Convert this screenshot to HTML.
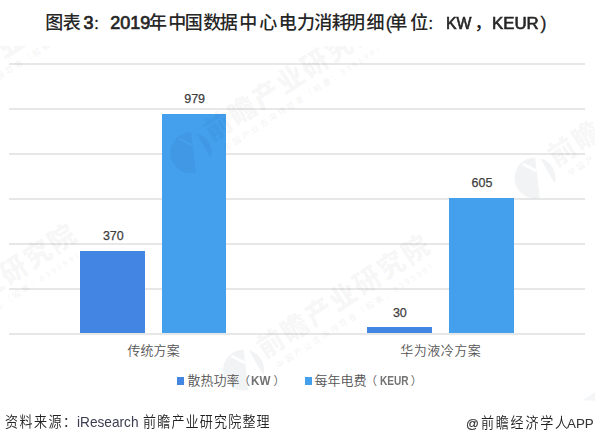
<!DOCTYPE html>
<html><head><meta charset="utf-8">
<style>
*{margin:0;padding:0;box-sizing:border-box}
html,body{width:605px;height:435px;overflow:hidden;background:#fff}
body{position:relative;font-family:"Liberation Sans","Noto Sans CJK SC",sans-serif}
.a{position:absolute;white-space:nowrap;line-height:30px}
.g{position:absolute;left:9px;width:576px;height:2px;background:#e7e7e7}
.bar{position:absolute}
.s1{background:#4285e3}
.s2{background:#449fed}
.sq{position:absolute;width:7px;height:7px}
</style></head>
<body>
<div class="g" style="top:63px"></div>
<div class="g" style="top:108px"></div>
<div class="g" style="top:153px"></div>
<div class="g" style="top:198px"></div>
<div class="g" style="top:243px"></div>
<div class="g" style="top:288px"></div>
<div class="g" style="top:333px"></div>

<div class="bar s1" style="left:80px;width:65px;top:251px;height:82px"></div>
<div class="bar s2" style="left:162px;width:64px;top:114px;height:219px"></div>
<div class="bar s1" style="left:367px;width:65px;top:327px;height:6px"></div>
<div class="bar s2" style="left:449px;width:65px;top:198px;height:135px"></div>

<div class="sq s1" style="left:177px;top:377px;width:7.4px;height:8px"></div>
<div class="sq s2" style="left:305px;top:377px;width:6.5px;height:8px"></div>

<svg width="605" height="435" style="position:absolute;left:0;top:0">
<defs>
<clipPath id="cp"><rect x="0" y="46" width="595" height="355"/></clipPath>
<mask id="lm" maskUnits="userSpaceOnUse" x="-30" y="-30" width="60" height="60">
<circle cx="0" cy="0" r="20.5" fill="#fff"/>
<polygon points="-0.5,-25 2.2,-25 27,18 27,25 5.5,25" fill="#000"/>
<path d="M-12,-14 L1.5,-7" stroke="#000" stroke-width="2.6"/>
</mask>
<g id="wm">
<rect x="-25" y="-25" width="50" height="50" fill="#1a2a48" fill-opacity="0.055" mask="url(#lm)"/>
<g transform="rotate(-33)" font-family="Liberation Sans,Noto Sans CJK SC,sans-serif" fill="#000" fill-opacity="0.052">
<text transform="scale(0.95,1)" x="25" y="2.5" font-size="28" font-weight="900" letter-spacing="2.3" id="wt1">前瞻产业研究院</text>
<text x="30" y="18" font-size="8.5" font-weight="700" letter-spacing="2.2" id="wt2">中国产业咨询领导者（股票：839599）</text>
</g>
</g>
</defs>
<g clip-path="url(#cp)">
<use href="#wm" transform="translate(-90,117)"/>
<use href="#wm" transform="translate(191,152.7)"/>
<use href="#wm" transform="translate(-110,359)"/>
<use href="#wm" transform="translate(243.6,370)"/>
<use href="#wm" transform="translate(535,178)"/>
<polygon points="583,400 595,392 595,401" fill="#1a2a48" fill-opacity="0.045"/>
</g>
</svg>
<div class="a" style="left:45.30px;top:8.00px;font-size:18px"><span style="font-size:18px;font-weight:500;color:#262626;">图</span><span style="margin-left:-0.50px;font-size:18px;font-weight:500;color:#262626;">表</span><span style="margin-left:2.60px;font-size:18px;font-weight:400;color:#262626;-webkit-text-stroke:0.7px #262626;">3</span><span style="margin-left:-0.70px;font-size:15px;font-weight:400;color:#262626;">：</span><span style="margin-left:2.40px;font-size:18px;font-weight:400;color:#262626;-webkit-text-stroke:0.7px #262626;">2019</span><span style="margin-left:-1.30px;font-size:18px;font-weight:500;color:#262626;">年</span><span style="margin-left:1.30px;font-size:18px;font-weight:500;color:#262626;">中</span><span style="margin-left:-1.50px;font-size:18px;font-weight:500;color:#262626;">国</span><span style="margin-left:0.70px;font-size:18px;font-weight:500;color:#262626;">数</span><span style="margin-left:-1.50px;font-size:18px;font-weight:500;color:#262626;">据</span><span style="margin-left:1.40px;font-size:18px;font-weight:500;color:#262626;">中</span><span style="margin-left:2.00px;font-size:18px;font-weight:500;color:#262626;">心</span><span style="margin-left:1.40px;font-size:18px;font-weight:500;color:#262626;">电</span><span style="margin-left:0.40px;font-size:18px;font-weight:500;color:#262626;">力</span><span style="margin-left:-0.70px;font-size:18px;font-weight:500;color:#262626;">消</span><span style="margin-left:-0.50px;font-size:18px;font-weight:500;color:#262626;">耗</span><span style="margin-left:-2.90px;font-size:18px;font-weight:500;color:#262626;">明</span><span style="margin-left:1.50px;font-size:18px;font-weight:500;color:#262626;">细</span><span style="margin-left:1.40px;font-size:18px;font-weight:400;color:#262626;-webkit-text-stroke:0.3px #262626;">(</span><span style="margin-left:-2.40px;font-size:18px;font-weight:500;color:#262626;">单</span><span style="margin-left:2.80px;font-size:18px;font-weight:500;color:#262626;">位</span><span style="margin-left:-1.20px;font-size:15px;font-weight:400;color:#262626;">：</span><span style="margin-left:3.90px;font-size:16px;font-weight:400;color:#262626;-webkit-text-stroke:0.6px #262626;display:inline-block;transform:scaleX(0.9885);transform-origin:0 0;">KW</span><span style="margin-left:2.40px;font-size:18px;font-weight:500;color:#262626;">，</span><span style="margin-left:-0.30px;font-size:16px;font-weight:400;color:#262626;-webkit-text-stroke:0.6px #262626;display:inline-block;transform:scaleX(1.0512);transform-origin:0 0;">KEUR</span><span style="margin-left:4.30px;font-size:18px;font-weight:400;color:#262626;-webkit-text-stroke:0.3px #262626;">)</span></div>
<div class="a" style="left:102.90px;top:221.00px;font-size:12.5px"><span style="font-size:12.5px;font-weight:400;color:#404040;-webkit-text-stroke:0.25px #404040;">370</span></div>
<div class="a" style="left:184.20px;top:84.10px;font-size:12.5px"><span style="font-size:12.5px;font-weight:400;color:#404040;-webkit-text-stroke:0.25px #404040;">979</span></div>
<div class="a" style="left:392.90px;top:298.00px;font-size:12.5px"><span style="font-size:12.5px;font-weight:400;color:#404040;-webkit-text-stroke:0.25px #404040;">30</span></div>
<div class="a" style="left:471.60px;top:168.30px;font-size:12.5px"><span style="font-size:12.5px;font-weight:400;color:#404040;-webkit-text-stroke:0.25px #404040;">605</span></div>
<div class="a" style="left:127.40px;top:336.30px;font-size:13px"><span style="font-size:13px;font-weight:350;color:#555555;letter-spacing:0.1px;">传统方案</span></div>
<div class="a" style="left:400.20px;top:336.30px;font-size:13px"><span style="font-size:13px;font-weight:350;color:#555555;letter-spacing:0.5px;">华为液冷方案</span></div>
<div class="a" style="left:187.50px;top:366.00px;font-size:13px"><span style="font-size:13px;font-weight:350;color:#555555;">散热功率</span><span style="margin-left:-1.10px;font-size:11.5px;font-weight:350;color:#595959;">（</span><span style="margin-left:1.40px;font-size:12px;font-weight:700;color:#737373;display:inline-block;transform:scaleX(0.9684);transform-origin:0 0;">KW</span><span style="margin-left:2.30px;font-size:11.5px;font-weight:350;color:#595959;">）</span></div>
<div class="a" style="left:314.50px;top:365.80px;font-size:13px"><span style="font-size:13px;font-weight:350;color:#555555;">每年电费</span><span style="margin-left:-1.10px;font-size:11.5px;font-weight:350;color:#595959;">（</span><span style="margin-left:3.40px;font-size:12px;font-weight:700;color:#737373;display:inline-block;transform:scaleX(0.8424);transform-origin:0 0;">KEUR</span><span style="margin-left:-3.70px;font-size:11.5px;font-weight:350;color:#595959;">）</span></div>
<div class="a" style="left:5.00px;top:407.00px;font-size:14.5px"><span style="font-size:14.5px;font-weight:350;color:#222222;letter-spacing:1.6px;display:inline-block;transform:scaleX(0.9000);transform-origin:0 0;">资料来源：</span><span style="margin-left:-8.30px;font-size:14.2px;font-weight:400;color:#3c3c50;display:inline-block;transform:scaleX(0.9629);transform-origin:0 0;">iResearch</span> <span style="margin-left:-1.73px;font-size:14.5px;font-weight:350;color:#222222;letter-spacing:1.28px;display:inline-block;transform:scaleX(0.9000);transform-origin:0 0;">前瞻产业研究院整理</span></div>
<div class="a" style="left:465.60px;top:407.70px;font-size:14.5px"><span style="font-size:13.5px;font-weight:400;color:#333;-webkit-text-stroke:0.2px #333;display:inline-block;transform:scaleX(0.9417);transform-origin:0 0;">@</span><span style="margin-left:1.60px;font-size:14.5px;font-weight:350;color:#222222;letter-spacing:1.94px;display:inline-block;transform:scaleX(0.9000);transform-origin:0 0;">前瞻经济学人</span><span style="margin-left:-12.20px;font-size:13.2px;font-weight:400;color:#333;display:inline-block;transform:scaleX(1.0154);transform-origin:0 0;">APP</span></div>
</body></html>
